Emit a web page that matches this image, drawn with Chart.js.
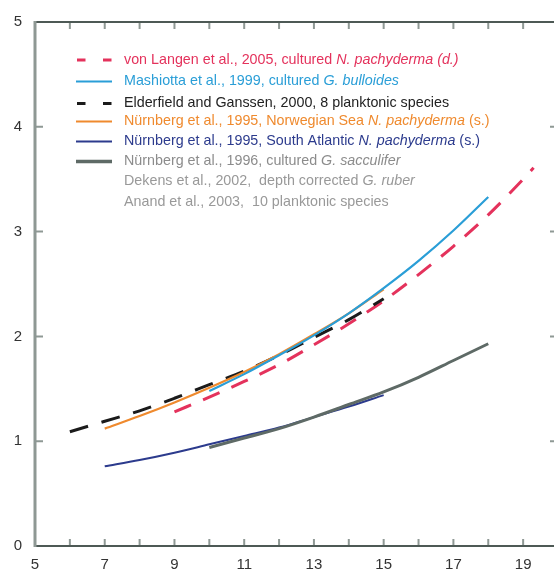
<!DOCTYPE html>
<html>
<head>
<meta charset="utf-8">
<script src="https://cdn.jsdelivr.net/npm/chart.js@4.4.1/dist/chart.umd.min.js"></script>
<style>
  html, body { margin: 0; padding: 0; background: #fff; overflow: hidden; width: 554px; height: 577px; }
  canvas { display: block; }
</style>
</head>
<body>
<canvas id="c" width="600" height="577"></canvas>
<script>
// Mg/Ca (mmol/mol) against calcification temperature (°C) for each calibration
const langenT = [9, 10, 11, 12, 13, 14, 15, 16, 17, 18, 19, 19.3];
const langenMgCa = [1.28, 1.42, 1.57, 1.73, 1.92, 2.12, 2.34, 2.59, 2.86, 3.16, 3.50, 3.61];

const mashiottaT = [10, 11, 12, 13, 14, 15, 16, 17, 18];
const mashiottaMgCa = [1.48, 1.64, 1.82, 2.01, 2.22, 2.46, 2.72, 3.01, 3.33];

const elderfieldT = [6, 7, 8, 9, 10, 11, 12, 13, 14, 15];
const elderfieldMgCa = [1.09, 1.19, 1.29, 1.41, 1.54, 1.67, 1.82, 1.99, 2.16, 2.36];

const nurnbergNorT = [7, 8, 9, 10, 11, 12, 13, 14, 15];
const nurnbergNorMgCa = [1.12, 1.24, 1.37, 1.51, 1.66, 1.83, 2.02, 2.22, 2.45];

const nurnbergSAtlT = [7, 8, 9, 10, 11, 12, 13, 14, 15];
const nurnbergSAtlMgCa = [0.76, 0.82, 0.89, 0.97, 1.05, 1.13, 1.23, 1.33, 1.44];

const nurnbergSaccT = [10, 11, 12, 13, 14, 15, 16, 17, 18];
const nurnbergSaccMgCa = [0.94, 1.03, 1.12, 1.23, 1.35, 1.47, 1.61, 1.77, 1.93];

const xTickLabels = [5, 7, 9, 11, 13, 15, 17, 19];
const yTickLabels = [0, 1, 2, 3, 4, 5];

const RED = '#e4325c';
const BLUE = '#2a9ed7';
const BLACK = '#1b1b1b';
const ORANGE = '#ef8a2e';
const NAVY = '#2c3b8d';
const GREY = '#5e6a66';

const pts = (xs, ys) => xs.map((x, i) => ({ x, y: ys[i] }));

const datasets = [
  { label: 'Nürnberg et al., 1996', data: pts(nurnbergSaccT, nurnbergSaccMgCa), borderColor: GREY, borderWidth: 3 },
  { label: 'Nürnberg et al., 1995, South Atlantic', data: pts(nurnbergSAtlT, nurnbergSAtlMgCa), borderColor: NAVY, borderWidth: 2 },
  { label: 'Mashiotta et al., 1999', data: pts(mashiottaT, mashiottaMgCa), borderColor: BLUE, borderWidth: 2.2 },
  { label: 'Nürnberg et al., 1995, Norwegian Sea', data: pts(nurnbergNorT, nurnbergNorMgCa), borderColor: ORANGE, borderWidth: 2.2 },
  { label: 'Elderfield and Ganssen, 2000', data: pts(elderfieldT, elderfieldMgCa), borderColor: BLACK, borderWidth: 3, borderDash: [19, 14] },
  { label: 'von Langen et al., 2005', data: pts(langenT, langenMgCa), borderColor: RED, borderWidth: 3, borderDash: [18, 13] }
];

// legend entries: sample style, colour, and text pieces [text, italic]
const legendRows = [
  { dy: 60,    sample: 'dash',  color: RED,    text: RED,       parts: [['von Langen et al., 2005, cultured ', 0], ['N. pachyderma (d.)', 1]] },
  { dy: 81.5,  sample: 'line',  color: BLUE,   text: BLUE,      parts: [['Mashiotta et al., 1999, cultured ', 0], ['G. bulloides', 1]] },
  { dy: 103.5, sample: 'dash',  color: BLACK,  text: '#222',    parts: [['Elderfield and Ganssen, 2000, 8 planktonic species', 0]] },
  { dy: 121.5, sample: 'line',  color: ORANGE, text: ORANGE,    parts: [['Nürnberg et al., 1995, Norwegian Sea ', 0], ['N. pachyderma', 1], [' (s.)', 0]] },
  { dy: 141.5, sample: 'line',  color: NAVY,   text: NAVY,      parts: [['Nürnberg et al., 1995, South Atlantic ', 0], ['N. pachyderma', 1], [' (s.)', 0]] },
  { dy: 161.5, sample: 'thick', color: GREY,   text: '#8c8c8c', parts: [['Nürnberg et al., 1996, cultured ', 0], ['G. sacculifer', 1]] },
  { dy: 181.5, sample: null,    color: null,   text: '#999',    parts: [['Dekens et al., 2002,  depth corrected ', 0], ['G. ruber', 1]] },
  { dy: 202,   sample: null,    color: null,   text: '#999',    parts: [['Anand et al., 2003,  10 planktonic species', 0]] }
];

const FONT = '"Liberation Sans", Arial, Helvetica, sans-serif';

const legendPlugin = {
  id: 'calibLegend',
  afterDraw(chart) {
    const ctx = chart.ctx;
    ctx.save();
    ctx.textBaseline = 'middle';
    legendRows.forEach(r => {
      const y = r.dy;
      if (r.sample) {
        ctx.strokeStyle = r.color;
        ctx.lineCap = 'butt';
        ctx.beginPath();
        if (r.sample === 'dash') {
          ctx.lineWidth = 3;
          ctx.moveTo(77, y); ctx.lineTo(85.5, y);
          ctx.moveTo(103, y); ctx.lineTo(111.5, y);
        } else {
          ctx.lineWidth = r.sample === 'thick' ? 3.5 : 2;
          ctx.moveTo(76, y); ctx.lineTo(112, y);
        }
        ctx.stroke();
      }
      let x = 124;
      ctx.fillStyle = r.text;
      r.parts.forEach(([t, it]) => {
        ctx.font = (it ? 'italic ' : '') + '14.3px ' + FONT;
        ctx.fillText(t, x, y);
        x += ctx.measureText(t).width;
      });
    });
    ctx.restore();
  }
};

const framePlugin = {
  id: 'frame',
  afterDraw(chart) {
    const { ctx, chartArea: a, scales: { x, y } } = chart;
    ctx.save();
    ctx.lineCap = 'butt';
    // inward tick marks on all four sides
    ctx.strokeStyle = '#8f9995';
    ctx.lineWidth = 2;
    ctx.beginPath();
    for (let v = Math.ceil(x.min) + 1; v < x.max; v++) {
      const px = x.getPixelForValue(v);
      ctx.moveTo(px, a.bottom); ctx.lineTo(px, a.bottom - 7);
      ctx.moveTo(px, a.top); ctx.lineTo(px, a.top + 7);
    }
    for (let v = y.min + 1; v < y.max; v++) {
      const py = y.getPixelForValue(v);
      ctx.moveTo(a.left, py); ctx.lineTo(a.left + 8, py);
      ctx.moveTo(a.right, py); ctx.lineTo(a.right - 8, py);
    }
    ctx.stroke();
    // frame
    ctx.strokeStyle = '#4d5955';
    ctx.lineWidth = 2;
    ctx.beginPath();
    ctx.moveTo(a.left, a.top); ctx.lineTo(a.right, a.top);
    ctx.moveTo(a.left, a.bottom); ctx.lineTo(a.right, a.bottom);
    ctx.moveTo(a.right, a.top); ctx.lineTo(a.right, a.bottom);
    ctx.stroke();
    ctx.strokeStyle = '#8e9894';
    ctx.lineWidth = 3;
    ctx.beginPath();
    ctx.moveTo(a.left, a.top - 1); ctx.lineTo(a.left, a.bottom + 1);
    ctx.stroke();
    ctx.restore();
  }
};

new Chart(document.getElementById('c'), {
  type: 'line',
  data: { datasets },
  options: {
    responsive: false,
    animation: false,
    layout: { padding: { left: 0, top: 22, right: 42, bottom: 0 } },
    plugins: { legend: { display: false }, tooltip: { enabled: false } },
    elements: {
      point: { radius: 0 },
      line: { cubicInterpolationMode: 'monotone', fill: false, borderCapStyle: 'butt' }
    },
    scales: {
      x: {
        type: 'linear', min: 5, max: 20,
        afterFit(s) { s.height = 31; },
        afterBuildTicks(s) { s.ticks = xTickLabels.map(v => ({ value: v })); },
        grid: { display: false, drawTicks: false },
        border: { display: false },
        ticks: { autoSkip: false, maxRotation: 0, padding: 10, color: '#333', font: { family: FONT, size: 15 } }
      },
      y: {
        type: 'linear', min: 0, max: 5,
        afterFit(s) { s.width = 35; },
        afterBuildTicks(s) { s.ticks = yTickLabels.map(v => ({ value: v })); },
        grid: { display: false, drawTicks: false },
        border: { display: false },
        ticks: { padding: 13, color: '#333', font: { family: FONT, size: 15 } }
      }
    }
  },
  plugins: [framePlugin, legendPlugin]
});
</script>
</body>
</html>
